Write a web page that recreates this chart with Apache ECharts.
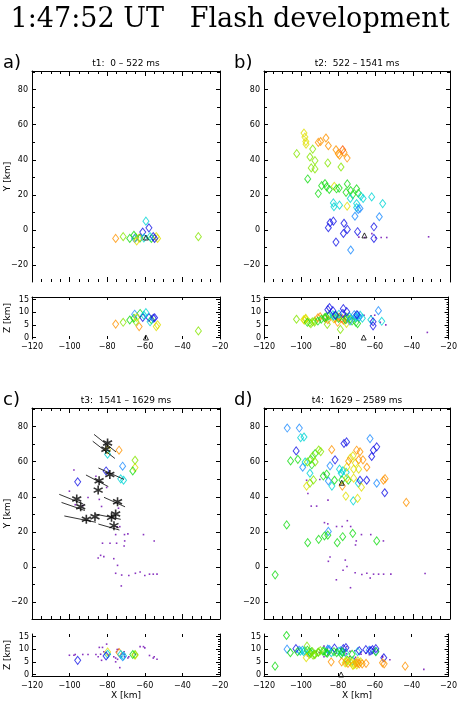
<!DOCTYPE html>
<html><head><meta charset="utf-8">
<script src="https://cdn.jsdelivr.net/npm/echarts@6/dist/echarts.min.js"></script>
<style>html,body{margin:0;padding:0;background:#fff}#c{width:460px;height:713px}</style>
</head><body><div id="c"></div>
<script>
// ---------------- DATA ----------------
const mainTitle = '1:47:52 UT   Flash development';
const panelTitles = ['t1:  0 – 522 ms', 't2:  522 – 1541 ms', 't3:  1541 – 1629 ms', 't4:  1629 – 2589 ms'];
const panelLabels = ['a)', 'b)', 'c)', 'd)'];
const xMajor = [-120, -100, -80, -60, -40, -20];
const xMinor = [-115, -110, -105, -95, -90, -85, -75, -70, -65, -55, -50, -45, -35, -30, -25];
const yMajor = [-20, 0, 20, 40, 60, 80];
const yMinor = [-10, 10, 30, 50, 70, 90];
const zMajor = [0, 5, 10, 15];
const zMinor = [1, 2, 3, 4, 6, 7, 8, 9, 11, 12, 13, 14, 16];

// sources: [X km, Y km, Z km, colour class]
const ptsA = [
  [-75.5,-4.7,5.3,'O'],[-71.5,-3.7,6.0,'L'],[-68.0,-4.7,6.9,'G'],[-65.8,-2.9,7.6,'G'],
  [-65.4,-4.7,9.2,'S'],[-64.8,-4.2,6.3,'L'],[-64.3,-6.2,7.9,'Y'],[-63.0,-4.5,4.3,'O'],
  [-62.5,-4.5,9.5,'G'],[-61.1,-1.1,7.9,'B'],[-60.5,-4.5,8.8,'C'],[-59.4,5.1,9.8,'C'],
  [-57.8,1.3,7.9,'B'],[-57.2,-3.7,6.2,'C'],[-56.5,-4.7,7.0,'G'],[-55.5,-3.7,7.6,'B'],
  [-54.8,-4.7,7.8,'B'],[-53.9,-3.7,4.3,'Y'],[-53.2,-4.7,5.0,'Y'],[-31.5,-3.7,2.6,'L']
];
const dotsA = [];
const ptsB = [
  [-98.5,55.2,7.0,'Y'],[-98.0,52.9,6.8,'Y'],[-97.5,50.4,7.3,'Y'],[-97.4,48.9,7.6,'Y'],
  [-102.4,43.5,7.2,'L'],[-93.8,46.1,6.2,'L'],[-95.3,41.6,5.8,'L'],[-92.6,39.5,6.5,'L'],
  [-94.6,35.4,5.5,'L'],[-92.6,34.8,6.0,'L'],[-85.7,38.2,5.2,'L'],[-78.6,35.9,3.2,'L'],
  [-90.8,49.9,7.8,'O'],[-89.6,50.4,8.2,'O'],[-86.7,52.4,7.6,'O'],[-85.4,48.0,7.0,'O'],
  [-81.3,45.7,7.5,'O'],[-80.1,43.5,6.0,'O'],[-79.4,42.6,8.0,'O'],[-77.0,44.2,6.8,'O'],
  [-75.3,41.0,7.2,'O'],[-77.7,45.7,7.5,'R'],
  [-96.5,29.1,6.0,'G'],[-90.8,20.8,6.5,'G'],[-89.0,25.3,7.2,'G'],[-87.2,26.5,7.8,'G'],
  [-86.3,24.6,8.2,'G'],[-84.9,23.1,8.5,'G'],[-81.0,23.5,8.6,'G'],[-79.6,23.9,7.5,'G'],
  [-75.2,26.3,8.0,'G'],[-75.9,21.5,7.0,'G'],[-72.3,20.2,6.5,'G'],[-73.4,22.5,7.2,'G'],
  [-70.2,23.5,6.0,'G'],[-69.3,21.0,5.5,'G'],[-82.2,24.9,7.4,'Y'],[-75.3,13.6,5.6,'Y'],
  [-73.6,18.0,8.2,'C'],[-67.9,19.3,8.8,'C'],[-66.7,18.0,7.6,'C'],[-62.1,18.9,7.0,'C'],
  [-56.2,15.1,6.4,'C'],[-82.7,15.5,9.0,'C'],[-82.4,13.3,8.4,'C'],[-79.4,14.2,9.2,'C'],
  [-70.2,15.1,8.5,'C'],[-70.2,12.8,7.8,'C'],
  [-69.3,11.8,8.8,'S'],[-71.1,7.9,9.0,'S'],[-58.0,7.6,10.6,'S'],[-68.4,12.3,8.0,'S'],[-73.4,-11.3,6.5,'S'],
  [-85.4,1.4,11.0,'B'],[-84.5,4.2,11.8,'B'],[-82.7,5.1,10.6,'B'],[-77.0,3.9,11.4,'B'],
  [-75.2,0.4,10.2,'B'],[-77.3,-1.9,9.5,'B'],[-69.7,-0.9,9.0,'B'],[-60.9,1.9,6.2,'B'],
  [-60.9,-4.7,4.6,'B'],[-81.3,-6.8,8.8,'B']
];
const dotsB = [
  [-69.0,-4.0,8.5],[-65.8,-4.2,8.8],[-62.0,-2.0,8.6],[-60.0,-4.3,8.8],[-57.0,-4.2,6.0],
  [-54.0,-4.2,5.0],[-31.5,-3.8,2.0]
];
const ptsC = [
  [-73.7,66.5,8.7,'O'],[-79.8,66.8,8.9,'Y'],[-79.8,64.2,8.0,'C'],[-65.2,60.8,7.9,'L'],
  [-65.2,56.6,7.6,'Y'],[-66.4,54.7,7.9,'G'],[-71.8,57.4,7.0,'S'],[-72.8,50.2,7.9,'C'],
  [-71.3,49.4,7.3,'C'],[-95.7,48.5,5.6,'B'],[-80.6,54.7,7.3,'B']
];
const dotsC = [
  [-97.7,55.2,7.6],[-86.0,51.7,7.9],[-80.3,45.3,12.0],[-100.1,43.2,7.6],[-90.2,39.6,7.9],
  [-84.2,38.5,10.7],[-93.0,35.0,7.9],[-97.0,35.5,7.9],[-83.0,34.5,5.6],[-74.0,33.5,9.9],
  [-74.7,23.0,9.9],[-73.3,23.0,2.7],[-75.5,18.5,5.0],[-70.8,18.5,7.0],[-69.0,18.9,6.5],
  [-60.7,18.5,11.0],[-55.0,14.9,7.0],[-70.7,14.9,8.0],[-71.0,12.0,9.0],[-82.5,13.6,10.7],
  [-78.5,13.6,8.0],[-75.0,13.6,9.0],[-84.8,5.2,7.0],[-83.5,6.7,8.0],[-81.8,6.0,9.0],
  [-76.5,4.8,7.0],[-74.5,1.0,6.0],[-75.5,-3.5,6.5],[-72.3,-4.5,8.0],[-68.5,-4.8,7.0],
  [-65.0,-3.5,8.0],[-62.5,-2.8,11.0],[-60.0,-4.8,10.5],[-57.5,-4.0,7.5],[-55.5,-4.0,6.5],
  [-53.5,-4.0,6.0],[-72.5,-10.7,7.0]
];
const starsC = [
  [-79.8,70.6],[-80.7,67.0],[-78.6,52.7],[-84.3,49.1],[-84.8,43.8],[-74.5,37.2],
  [-96.2,38.7],[-94.1,34.3],[-91.1,27.2],[-86.5,28.7],[-77.7,28.3],[-75.5,30.2],[-76.4,23.6]
];
const segsC = [
  [-87.0,75.5,-75.3,65.5],[-87.7,71.6,-75.9,61.8],[-84.7,56.4,-71.1,49.9],[-91.3,52.4,-79.4,45.8],
  [-105.5,41.4,-92.7,35.9],[-104.3,36.8,-91.9,32.2],[-81.7,39.7,-70.5,34.3],[-102.8,29.1,-86.0,25.5],
  [-86.5,30.2,-72.8,27.2],[-84.7,24.5,-73.5,21.1]
];
const ptsD = [
  [-107.5,79.1,10.0,'S'],[-101.0,79.1,9.6,'S'],[-100.3,73.6,9.2,'C'],[-98.5,74.0,9.0,'C'],
  [-102.7,66.1,10.2,'B'],[-105.7,60.4,8.6,'G'],[-101.8,61.3,9.0,'G'],[-90.6,66.6,8.8,'L'],
  [-89.5,65.7,9.4,'L'],[-92.5,64.6,8.0,'G'],[-93.8,63.1,9.0,'L'],[-94.9,61.3,8.4,'G'],
  [-92.5,59.8,7.8,'L'],[-94.3,58.2,9.0,'G'],[-96.7,59.8,11.2,'L'],[-97.9,59.8,9.4,'C'],
  [-99.2,56.8,9.6,'S'],[-95.3,53.4,9.0,'C'],[-93.4,49.6,7.6,'L'],[-95.3,47.8,8.0,'L'],
  [-97.1,46.1,6.6,'Y'],[-86.3,52.9,8.6,'G'],[-88.1,51.8,9.2,'G'],[-85.4,49.0,9.8,'S'],
  [-84.5,57.6,9.8,'S'],[-81.8,61.0,10.4,'B'],[-83.6,66.8,5.0,'O'],[-77.0,70.3,10.2,'B'],
  [-75.6,71.2,10.6,'B'],[-70.2,66.5,4.6,'O'],[-68.4,65.6,4.2,'O'],[-63.0,73.1,9.6,'S'],
  [-61.2,66.5,9.8,'B'],[-59.4,68.4,10.2,'B'],[-62.1,62.9,9.4,'B'],[-73.6,62.0,5.2,'Y'],
  [-72.2,63.3,4.8,'Y'],[-74.5,60.2,4.4,'O'],[-75.4,57.0,5.6,'Y'],[-70.9,59.2,4.0,'Y'],
  [-69.1,61.0,4.6,'O'],[-66.8,61.0,4.2,'O'],[-71.8,55.7,3.8,'Y'],[-69.1,55.7,5.4,'Y'],
  [-64.7,56.8,4.4,'O'],[-79.4,55.7,9.2,'C'],[-77.6,54.8,8.8,'C'],[-78.5,53.4,9.4,'C'],
  [-75.8,53.9,8.6,'C'],[-78.1,49.6,8.0,'G'],[-83.5,46.1,8.6,'C'],[-82.1,49.4,9.0,'G'],
  [-75.4,50.6,4.8,'Y'],[-71.8,50.6,3.6,'Y'],[-74.7,49.4,5.6,'G'],[-68.4,49.4,9.4,'B'],
  [-64.8,49.4,9.8,'B'],[-59.4,47.7,9.2,'S'],[-55.8,49.4,4.6,'O'],[-54.9,50.3,4.2,'O'],
  [-69.3,47.7,9.0,'C'],[-67.6,45.5,5.0,'Y'],[-77.9,46.1,5.0,'O'],[-55.1,42.3,6.6,'B'],
  [-43.5,36.8,3.3,'O'],[-76.0,40.4,4.6,'Y'],[-69.7,39.1,3.8,'Y'],[-72.0,37.7,5.4,'C'],
  [-107.8,24.0,15.4,'G'],[-96.5,13.9,9.6,'G'],[-90.6,15.8,8.8,'G'],[-87.5,17.7,9.2,'G'],
  [-85.7,18.2,8.4,'G'],[-85.4,20.3,10.0,'S'],[-80.6,13.9,8.6,'G'],[-77.7,17.3,9.0,'G'],
  [-72.3,19.2,8.0,'G'],[-59.4,14.9,9.0,'G'],[-114.0,-4.4,3.3,'G']
];
const dotsD = [
  [-97.1,49.4,8.0],[-96.4,41.9,7.4],[-94.6,34.7,8.2],[-91.7,34.7,9.0],[-85.6,38.1,10.4],
  [-90.0,49.8,8.6],[-87.5,52.8,7.0],[-87.5,25.3,11.2],[-85.7,24.6,9.6],[-81.0,23.1,8.4],
  [-78.0,23.1,10.2],[-75.2,26.4,11.0],[-73.4,23.1,9.2],[-67.6,18.5,8.8],[-62.6,18.5,10.6],
  [-55.8,14.9,7.2],[-70.4,14.9,6.8],[-70.8,12.6,9.4],[-85.4,3.3,7.8],[-84.5,5.8,8.6],
  [-81.1,-7.2,9.8],[-76.3,4.0,7.6],[-75.4,0.4,8.2],[-77.5,-1.8,9.0],[-71.0,-3.2,6.2],
  [-67.4,-4.2,8.0],[-64.7,-3.5,8.4],[-62.9,-6.2,7.8],[-61.1,-4.0,10.0],[-58.4,-4.0,9.4],
  [-55.7,-4.0,6.8],[-51.8,-4.0,5.8],[-33.4,-3.6,2.0],[-73.5,-11.7,7.0]
];
// reference marker [X, Y] per panel (null = none)
const refMarks = [[-59.4,-4.2],[-66.0,-3.0],null,[-78.2,48.0]];

// ---------------- STYLE / LAYOUT ----------------
const COL = {P:'#6a00b0',B:'#1414e6',S:'#1e8cff',C:'#00d4d4',G:'#14dc14',L:'#86e600',Y:'#e0e000',O:'#ff9400',R:'#ff5a00'};
const XR = [-120, -20], YR = [-29.5, 90.5], ZR = [-0.6, 16];
const grids = [
  {l:32, t:71,  w:188, h:211, sub:false, lineB:false, lineT:true,  xlab:false},
  {l:32, t:297, w:188, h:42,  sub:true,  lineB:false, lineT:true,  xlab:true, lm:4},
  {l:264,t:71,  w:186, h:211, sub:false, lineB:false, lineT:true,  xlab:false},
  {l:264,t:297, w:186, h:42,  sub:true,  lineB:false, lineT:true,  xlab:true, lm:4},
  {l:32, t:408, w:188, h:211, sub:false, lineB:true,  lineT:true,  xlab:false},
  {l:32, t:634, w:188, h:42,  sub:true,  lineB:true,  lineT:false, xlab:true, lm:6},
  {l:264,t:408, w:186, h:211, sub:false, lineB:true,  lineT:true,  xlab:false},
  {l:264,t:634, w:186, h:42,  sub:true,  lineB:true,  lineT:false, xlab:true, lm:6}
];
const FONT = 'DejaVu Sans';
const fmt = v => (v < 0 ? '\u2212' : '') + Math.abs(v);

const gridOpt = [], xAxis = [], yAxis = [], series = [], graphic = [];
const XI = [], YI = [];
function ax(list, o) { list.push(o); return list.length - 1; }
function tickAxis(gi, pos, rng, ticks, len, line, label) {
  return {
    type:'value', gridIndex:gi, position:pos, min:rng[0], max:rng[1],
    axisLine:{show:line, onZero:false, lineStyle:{color:'#000', width:1}},
    axisTick:{show:true, inside:true, length:len, customValues:ticks, lineStyle:{color:'#000', width:1}},
    axisLabel: label ? Object.assign({show:true, color:'#000', fontSize:8, fontFamily:FONT,
      formatter:fmt, showMinLabel:true, showMaxLabel:true, hideOverlap:false}, label) : {show:false},
    splitLine:{show:false}
  };
}
grids.forEach((g, gi) => {
  gridOpt.push({left:g.l, top:g.t, width:g.w, height:g.h, containLabel:false});
  const yr = g.sub ? ZR : YR;
  XI[gi] = ax(xAxis, tickAxis(gi, 'bottom', XR, xMajor, g.sub ? 3 : 5, g.lineB,
    g.xlab ? {customValues:xMajor, margin:g.lm} : null));
  ax(xAxis, tickAxis(gi, 'bottom', XR, g.sub ? [] : xMinor, 3, false, null));
  ax(xAxis, tickAxis(gi, 'top', XR, xMajor, g.sub ? 3 : 5, g.lineT, null));
  ax(xAxis, tickAxis(gi, 'top', XR, g.sub ? [] : xMinor, 3, false, null));
  const maj = g.sub ? zMajor : yMajor, mnr = g.sub ? zMinor : yMinor;
  YI[gi] = ax(yAxis, tickAxis(gi, 'left', yr, maj, 4, true, {customValues:maj, margin:g.sub ? 3 : 4}));
  ax(yAxis, tickAxis(gi, 'left', yr, g.sub ? [] : mnr, 3, false, null));
  ax(yAxis, tickAxis(gi, 'right', yr, maj, 4, true, null));
  ax(yAxis, tickAxis(gi, 'right', yr, mnr, g.sub ? 2 : 3, false, null));
});

function scatter(gi, data, sym, size, style, z) {
  series.push({type:'scatter', xAxisIndex:XI[gi], yAxisIndex:YI[gi], symbol:sym, symbolSize:size,
    itemStyle:style, data:data, silent:true, z:z || 2, animation:false});
}
const TRI = 'path://M5,0L10,9L0,9Z';
function panel(pi, pts, dots) {
  const gm = 2 * pi, gs = 2 * pi + 1;
  if (dots.length) {
    const st = {color:COL.P};
    scatter(gm, dots.map(d => [d[0], d[1]]), 'rect', 1.6, st, 2);
    scatter(gs, dots.map(d => [d[0], d[2]]), 'rect', 1.6, st, 2);
  }
  const groups = {};
  pts.forEach(p => { (groups[p[3]] = groups[p[3]] || []).push(p); });
  Object.keys(groups).forEach(c => {
    const st = {color:'rgba(0,0,0,0)', borderColor:COL[c], borderWidth:1};
    scatter(gm, groups[c].map(p => [p[0], p[1]]), 'diamond', [6, 8], st, 3);
    scatter(gs, groups[c].map(p => [p[0], p[2]]), 'diamond', [6, 8], st, 3);
  });
  const r = refMarks[pi];
  if (r) {
    const st = {color:'rgba(0,0,0,0)', borderColor:'#000', borderWidth:1};
    scatter(gm, [r], TRI, [5, 5], st, 4);
    scatter(gs, [[r[0], 0]], TRI, [5, 5], st, 4);
  }
}
panel(0, ptsA, dotsA);
panel(1, ptsB, dotsB);
panel(2, ptsC, dotsC);
panel(3, ptsD, dotsD);

// panel c: line segments and asterisks
const segData = [];
segsC.forEach(s => { segData.push([s[0], s[1]], [s[2], s[3]], ['-', '-']); });
series.push({type:'line', xAxisIndex:XI[4], yAxisIndex:YI[4], data:segData, showSymbol:false, symbol:'none',
  connectNulls:false, lineStyle:{color:'#000', width:0.8}, silent:true, animation:false, z:4});
scatter(4, starsC, 'path://M5,0L5,10M0.7,2.5L9.3,7.5M0.7,7.5L9.3,2.5', [9, 9],
  {color:'rgba(0,0,0,0)', borderColor:'#000', borderWidth:1.6}, 5);

// ---------------- TEXT ----------------
graphic.push({type:'text', x:230, y:20, style:{text:mainTitle, font:'27px "DejaVu Serif"', fill:'#000',
  textAlign:'center', textVerticalAlign:'middle'}});
[0, 2, 4, 6].forEach((gi, pi) => {
  const g = grids[gi];
  graphic.push({type:'text', x:g.l + g.w / 2, y:g.t - 7, style:{text:panelTitles[pi],
    font:'9px "' + FONT + '"', fill:'#000', textAlign:'center', textVerticalAlign:'middle'}});
  graphic.push({type:'text', x:(pi % 2 === 0) ? 3 : 234, y:g.t - 8, style:{text:panelLabels[pi],
    font:'18px "' + FONT + '"', fill:'#000', textAlign:'left', textVerticalAlign:'middle'}});
});
[[0, 'Y [km]'], [1, 'Z [km]'], [4, 'Y [km]'], [5, 'Z [km]']].forEach(([gi, t]) => {
  const g = grids[gi];
  graphic.push({type:'text', x:8, y:g.t + g.h / 2, rotation:Math.PI / 2, style:{text:t,
    font:'9px "' + FONT + '"', fill:'#000', textAlign:'center', textVerticalAlign:'middle'}});
});
[5, 7].forEach(gi => {
  const g = grids[gi];
  graphic.push({type:'text', x:g.l + g.w / 2, y:696, style:{text:'X [km]',
    font:'9px "' + FONT + '"', fill:'#000', textAlign:'center', textVerticalAlign:'middle'}});
});

const chart = echarts.init(document.getElementById('c'), null, {renderer:'canvas'});
chart.setOption({animation:false, backgroundColor:'#fff', grid:gridOpt, xAxis:xAxis, yAxis:yAxis,
  series:series, graphic:graphic});
</script></body></html>
